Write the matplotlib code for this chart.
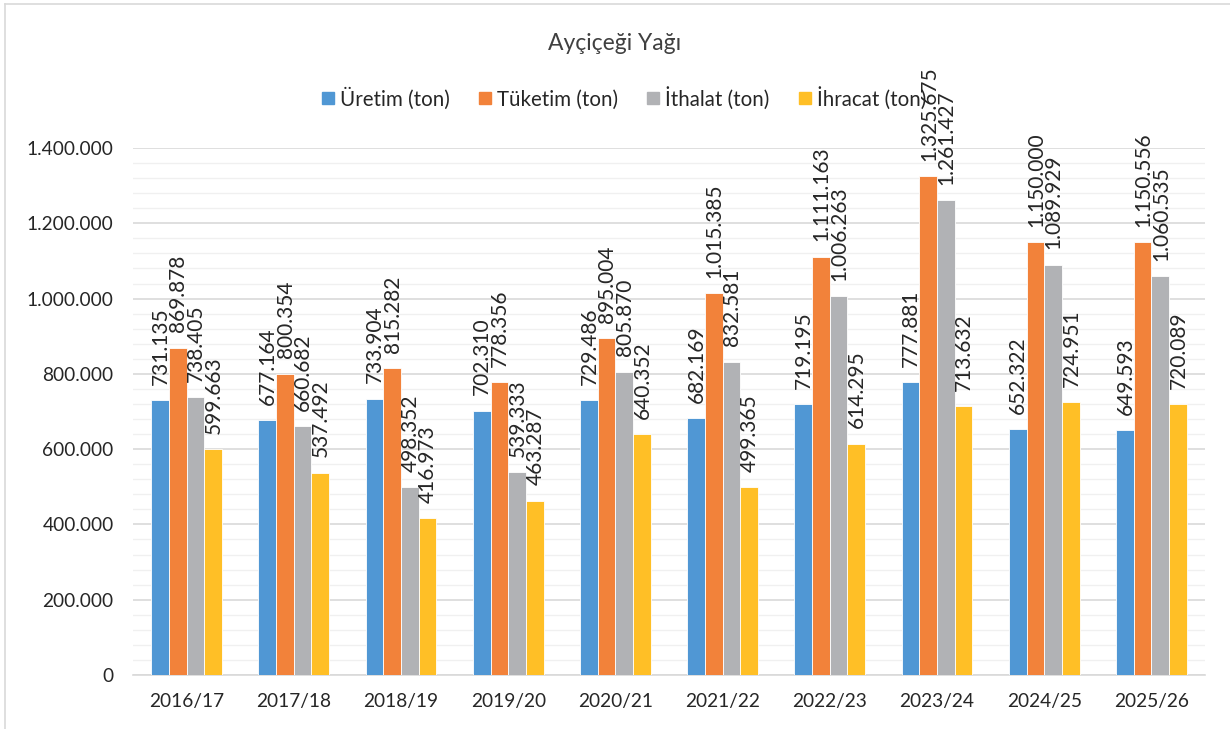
import numpy as np
import matplotlib.pyplot as plt
from matplotlib.lines import Line2D
from matplotlib.ticker import MultipleLocator, FuncFormatter

plt.rcParams['font.family'] = ['Lato', 'DejaVu Sans']

# Veriler
seasons = ['2016/17', '2017/18', '2018/19', '2019/20', '2020/21',
           '2021/22', '2022/23', '2023/24', '2024/25', '2025/26']
uretim = [731135, 677164, 733904, 702310, 729486, 682169, 719195, 777881, 652322, 649593]
tuketim = [869878, 800354, 815282, 778356, 895004, 1015385, 1111163, 1325675, 1150000, 1150556]
ithalat = [738405, 660682, 498352, 539333, 805870, 832581, 1006263, 1261427, 1089929, 1060535]
ihracat = [599663, 537492, 416973, 463287, 640352, 499365, 614295, 713632, 724951, 720089]

series_names = ['Üretim (ton)', 'Tüketim (ton)', 'İthalat (ton)', 'İhracat (ton)']
colors = ['#5097D4', '#F2823A', '#B1B2B5', '#FFBF26']


def tr_fmt(v):
    return f"{int(v):,}".replace(',', '.')


fig = plt.figure(figsize=(12.3, 7.29), dpi=100)
ax = fig.add_axes([133 / 1230, 1 - 675 / 729, 1072 / 1230, (675 - 148) / 729])

x = np.arange(len(seasons))
w = 0.165
all_series = [uretim, tuketim, ithalat, ihracat]
for i, (vals, col) in enumerate(zip(all_series, colors)):
    pos = x + (i - 1.5) * w
    ax.bar(pos, vals, width=w, color=col, edgecolor='white', linewidth=0.6, zorder=3)
    for px, v in zip(pos, vals):
        ax.annotate(tr_fmt(v), (px, v), xytext=(0.5, 11), textcoords='offset points',
                    rotation=90, ha='center', va='bottom', fontsize=15,
                    color='#262626', annotation_clip=False, zorder=4)

ax.set_xlim(-0.5, len(seasons) - 0.5)
ax.set_ylim(0, 1400000)
ax.yaxis.set_major_locator(MultipleLocator(200000))
ax.yaxis.set_minor_locator(MultipleLocator(40000))
ax.yaxis.set_major_formatter(FuncFormatter(lambda v, p: tr_fmt(v)))
ax.grid(axis='y', which='major', color='#d9d9d9', linewidth=1.2, zorder=0)
ax.grid(axis='y', which='minor', color='#f0f0f0', linewidth=1.0, zorder=0)
ax.set_xticks(x)
ax.set_xticklabels(seasons)
ax.tick_params(axis='both', which='both', length=0, labelsize=13.8, colors='#262626')
ax.tick_params(axis='x', pad=13)
ax.tick_params(axis='y', pad=14)
for s in ['top', 'right', 'left']:
    ax.spines[s].set_visible(False)
ax.spines['bottom'].set_color('#d9d9d9')
ax.spines['bottom'].set_linewidth(1.2)

fig.text(0.5, 1 - 44 / 729, 'Ayçiçeği Yağı', ha='center', va='center',
         fontsize=16.5, color='#404040')

handles = [Line2D([0], [0], marker='s', linestyle='none', markersize=8,
                  markerfacecolor=c, markeredgecolor=c) for c in colors]
fig.legend(handles, series_names, loc='center', bbox_to_anchor=(624 / 1230, 1 - 98 / 729),
           ncol=4, frameon=False, fontsize=14.8, handlelength=0.55, handletextpad=0.3,
           columnspacing=1.45, labelcolor='#262626')

# Dış çerçeve
fig.add_artist(Line2D([5 / 1230, 5 / 1230], [0, 1 - 4 / 729], color='#d9d9d9', lw=1.2))
fig.add_artist(Line2D([5 / 1230, 1], [1 - 4 / 729, 1 - 4 / 729], color='#d9d9d9', lw=1.2))

fig.savefig('out.png', dpi=100)
